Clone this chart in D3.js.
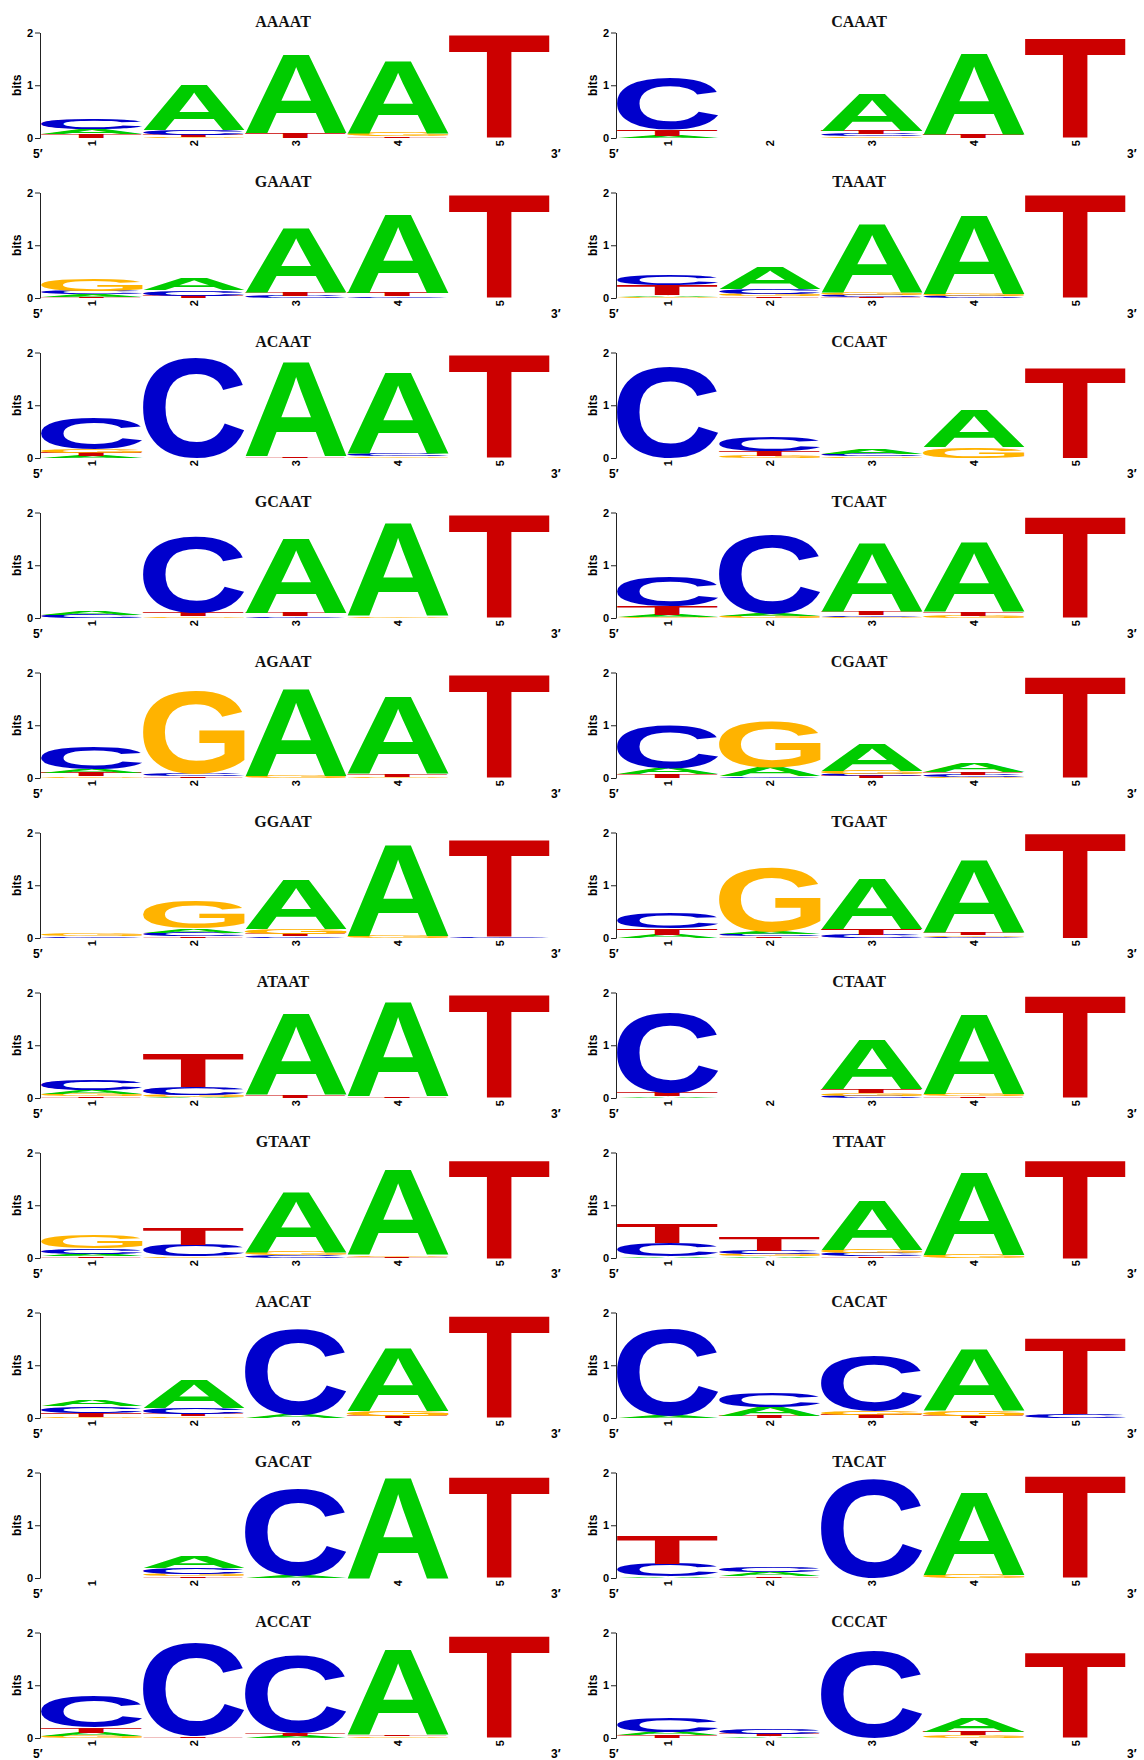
<!DOCTYPE html>
<html>
<head>
<meta charset="utf-8">
<script src="https://cdn.jsdelivr.net/npm/d3@7"></script>
<style>
  html, body { margin: 0; padding: 0; background: #fff; }
  svg { display: block; }
</style>
</head>
<body>
<script>
// Nucleotide alphabet and per-letter colours (classic logo palette)
const letters = ["A", "C", "G", "T"];
const letterColors = ["#00CC00", "#0000CC", "#FFB300", "#CC0000"];
const positions = ["1", "2", "3", "4", "5"];
const yTicks = [0, 1, 2];

// Information content (bits) per position, columns are [A, C, G, T]
const AAAAT = [[0.10, 0.19, 0, 0.07], [0.87, 0.10, 0.02, 0.04], [1.51, 0, 0, 0.09], [1.37, 0, 0.07, 0.03], [0, 0, 0, 1.96]];
const CAAAT = [[0.04, 0.98, 0, 0.11], [0, 0, 0, 0], [0.71, 0.05, 0.03, 0.06], [1.55, 0, 0, 0.06], [0, 0, 0, 1.89]];
const GAAAT = [[0.05, 0.06, 0.23, 0.02], [0.22, 0.11, 0, 0.04], [1.23, 0.04, 0, 0.07], [1.51, 0.03, 0, 0.06], [0, 0, 0, 1.96]];
const TAAAT = [[0.03, 0.21, 0.025, 0.19], [0.42, 0.10, 0.04, 0.03], [1.31, 0.04, 0.05, 0.02], [1.49, 0.035, 0.04, 0], [0, 0, 0, 1.97]];
const ACAAT = [[0.04, 0.60, 0.07, 0.06], [0, 1.89, 0, 0], [1.79, 0, 0, 0.03], [1.55, 0.04, 0.03, 0], [0, 0, 0, 1.97]];
const CCAAT = [[0, 1.73, 0, 0], [0, 0.28, 0.04, 0.09], [0.10, 0.04, 0.03, 0], [0.71, 0, 0.20, 0], [0, 0, 0, 1.73]];
const GCAAT = [[0.07, 0.06, 0, 0], [0, 1.46, 0.03, 0.06], [1.43, 0.03, 0, 0.07], [1.77, 0, 0.03, 0], [0, 0, 0, 1.96]];
const TCAAT = [[0.04, 0.58, 0.02, 0.16], [0.04, 1.49, 0.035, 0], [1.30, 0.03, 0.025, 0.07], [1.33, 0, 0.04, 0.07], [0, 0, 0, 1.92]];
const AGAAT = [[0.07, 0.43, 0.03, 0.06], [0, 0.04, 1.57, 0.03], [1.67, 0, 0.04, 0], [1.48, 0, 0.02, 0.05], [0, 0, 0, 1.97]];
const CGAAT = [[0.11, 0.82, 0, 0.07], [0.16, 0.03, 0.86, 0], [0.51, 0.04, 0.06, 0.035], [0.18, 0.04, 0.02, 0.045], [0, 0, 0, 1.91]];
const GGAAT = [[0, 0.03, 0.04, 0], [0.075, 0.07, 0.53, 0.03], [0.93, 0.03, 0.09, 0.05], [1.74, 0, 0.04, 0], [0, 0.03, 0, 1.84]];
const TGAAT = [[0.06, 0.30, 0, 0.12], [0.045, 0.04, 1.22, 0.03], [0.97, 0.06, 0, 0.12], [1.39, 0.025, 0.03, 0.05], [0, 0, 0, 1.99]];
const ATAAT = [[0.08, 0.20, 0.04, 0.03], [0.02, 0.14, 0.04, 0.63], [1.56, 0, 0, 0.05], [1.79, 0, 0, 0.03], [0, 0, 0, 1.96]];
const CTAAT = [[0.03, 1.51, 0, 0.06], [0, 0, 0, 0], [0.93, 0.04, 0.05, 0.08], [1.52, 0, 0.05, 0.03], [0, 0, 0, 1.95]];
const GTAAT = [[0.05, 0.11, 0.25, 0.03], [0, 0.22, 0.03, 0.31], [1.15, 0.055, 0.06, 0], [1.62, 0, 0.03, 0.025], [0, 0, 0, 1.87]];
const TTAAT = [[0.03, 0.25, 0, 0.36], [0.03, 0.06, 0.05, 0.26], [0.93, 0.06, 0.07, 0.03], [1.57, 0, 0.06, 0], [0, 0, 0, 1.86]];
const AACAT = [[0.13, 0.12, 0.02, 0.08], [0.55, 0.12, 0.03, 0.035], [0.06, 1.62, 0, 0], [1.21, 0, 0.09, 0.04], [0, 0, 0, 1.94]];
const CACAT = [[0.04, 1.64, 0, 0], [0.16, 0.28, 0, 0.04], [0, 1.04, 0.08, 0.06], [1.18, 0, 0.10, 0.04], [0, 0.08, 0, 1.46]];
const GACAT = [[0, 0, 0, 0], [0.23, 0.13, 0.035, 0.03], [0.04, 1.65, 0, 0], [1.91, 0, 0, 0], [0, 0, 0, 1.91]];
const TACAT = [[0.03, 0.24, 0, 0.55], [0.08, 0.11, 0, 0.03], [0, 1.87, 0, 0], [1.57, 0, 0.06, 0], [0, 0, 0, 1.95]];
const ACCAT = [[0.06, 0.60, 0.04, 0.10], [0, 1.78, 0, 0.03], [0.04, 1.47, 0, 0.05], [1.62, 0, 0.03, 0.03], [0, 0, 0, 1.95]];
const CCCAT = [[0.06, 0.26, 0, 0.05], [0.03, 0.09, 0, 0.05], [0, 1.64, 0, 0], [0.26, 0, 0.05, 0.06], [0, 0, 0, 1.62]];

// Panel order: two logos per row, left then right
const motifNames = ["AAAAT", "CAAAT", "GAAAT", "TAAAT", "ACAAT", "CCAAT", "GCAAT", "TCAAT",
  "AGAAT", "CGAAT", "GGAAT", "TGAAT", "ATAAT", "CTAAT", "GTAAT", "TTAAT",
  "AACAT", "CACAT", "GACAT", "TACAT", "ACCAT", "CCCAT"];
const logoData = { AAAAT, CAAAT, GAAAT, TAAAT, ACAAT, CCAAT, GCAAT, TCAAT, AGAAT, CGAAT, GGAAT,
  TGAAT, ATAAT, CTAAT, GTAAT, TTAAT, AACAT, CACAT, GACAT, TACAT, ACCAT, CCCAT };

const W = 1144, H = 1760;
const panelDX = 576, panelDY = 160;
const glyphFont = '"Liberation Sans", Arial, Helvetica, sans-serif';
const glyphSize = 100;

// Measure the ink box of each glyph so it can be stretched to fill a stack cell
const ctx = document.createElement("canvas").getContext("2d");
ctx.font = `bold ${glyphSize}px ${glyphFont}`;
const ink = {};
letters.forEach(l => {
  const m = ctx.measureText(l);
  ink[l] = {
    left: m.actualBoundingBoxLeft,
    right: m.actualBoundingBoxRight,
    asc: m.actualBoundingBoxAscent,
    desc: m.actualBoundingBoxDescent
  };
});

const svg = d3.select("body").append("svg")
  .attr("width", W).attr("height", H)
  .attr("viewBox", `0 0 ${W} ${H}`);

svg.append("rect").attr("width", W).attr("height", H).attr("fill", "#fff");

const x = d3.scaleBand().domain(positions).range([41, 551]).padding(0);
const y = d3.scaleLinear().domain([0, 2]).range([138, 32.5]);
const color = d3.scaleOrdinal().domain(letters).range(letterColors);

motifNames.forEach((name, i) => {
  const g = svg.append("g")
    .attr("transform", `translate(${(i % 2) * panelDX},${Math.floor(i / 2) * panelDY})`);
  const data = logoData[name];

  // Title
  g.append("text")
    .attr("x", 283).attr("y", 27)
    .attr("text-anchor", "middle")
    .attr("font-family", '"Liberation Serif", "Times New Roman", serif')
    .attr("font-weight", "bold")
    .attr("font-size", 16)
    .attr("fill", "#111")
    .text(name);

  // Letter stacks: smallest at the bottom, largest on top
  data.forEach((row, j) => {
    const stack = letters.map((l, k) => ({ l, h: row[k] }))
      .filter(d => d.h > 0)
      .sort((a, b) => a.h - b.h);
    let base = 0;
    stack.forEach(d => {
      const top = y(base + d.h), bottom = y(base);
      const bx = x(positions[j]), bw = x.bandwidth();
      const bh = bottom - top;
      const m = ink[d.l];
      const sx = bw / (m.left + m.right);
      const sy = bh / (m.asc + m.desc);
      g.append("text")
        .attr("x", 0).attr("y", 0)
        .attr("font-family", glyphFont)
        .attr("font-weight", "bold")
        .attr("font-size", glyphSize)
        .attr("fill", color(d.l))
        .attr("transform", `translate(${bx},${top}) scale(${sx},${sy}) translate(${m.left},${m.asc})`)
        .text(d.l);
      base += d.h;
    });
  });

  // Y axis
  const ax = g.append("g")
    .attr("transform", "translate(40,0)")
    .call(d3.axisLeft(y).tickValues(yTicks).tickFormat(d3.format("d")).tickSize(5).tickSizeOuter(0).tickPadding(2));
  ax.select(".domain").attr("stroke", "#222").attr("stroke-width", 1);
  ax.selectAll(".tick line").attr("stroke", "#222");
  ax.selectAll(".tick text")
    .attr("font-family", glyphFont)
    .attr("font-weight", "bold")
    .attr("font-size", 11)
    .attr("fill", "#000");

  g.append("text")
    .attr("transform", `translate(21,${(y(0) + y(2)) / 2}) rotate(-90)`)
    .attr("text-anchor", "middle")
    .attr("font-family", glyphFont)
    .attr("font-weight", "bold")
    .attr("font-size", 12)
    .text("bits");

  // Position numbers, rotated
  g.selectAll(".pos")
    .data(positions)
    .enter().append("text")
    .attr("transform", d => `translate(${x(d) + x.bandwidth() / 2},140) rotate(-90)`)
    .attr("text-anchor", "end")
    .attr("dominant-baseline", "central")
    .attr("font-family", glyphFont)
    .attr("font-weight", "bold")
    .attr("font-size", 11)
    .text(d => d);

  // Strand ends
  g.append("text")
    .attr("x", 33).attr("y", 158)
    .attr("font-family", glyphFont).attr("font-weight", "bold").attr("font-size", 12)
    .text("5\u2032");
  g.append("text")
    .attr("x", 551).attr("y", 158)
    .attr("font-family", glyphFont).attr("font-weight", "bold").attr("font-size", 12)
    .text("3\u2032");
});
</script>
</body>
</html>
